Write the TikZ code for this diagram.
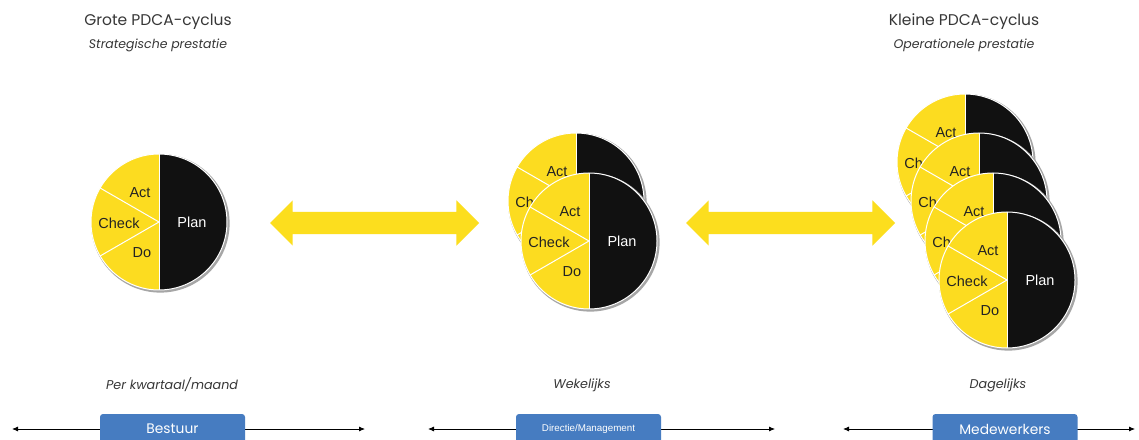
\documentclass[tikz,border=0pt]{standalone}
\usepackage{fontspec}
\setmainfont{Poppins}
\newfontfamily\pielabelfont{Liberation Sans}
\usetikzlibrary{positioning,shapes.arrows,arrows.meta,calc}

% the disc of one PDCA pie: name, x, y
\newcommand{\pdcadisc}[3]{%
  \coordinate (#1) at (#2,#3);
  \fill[pieshadow] ($(#1)+(1.3,-1.3)$) circle (69.3);
  \fill[fill=pdcaYellow] (#1) -- ++(0,68) arc[start angle=90,end angle=270,radius=68] -- cycle;
  \fill[fill=pdcaBlack] (#1) -- ++(0,-68) arc[start angle=-90,end angle=90,radius=68] -- cycle;
  \draw[pieline] (#1) -- ++(150:68);
  \draw[pieline] (#1) -- ++(210:68);
  \draw[pieline,line width=0.4pt] ($(#1)+(0,68)$) -- ($(#1)+(0,-68)$);
  \draw[pieline] (#1) circle (68);
  \node[pietext] (#1-act) at ($(#1)+(-19,29)$) {Act};
  \node[pietext] (#1-check) at ($(#1)+(-40,-1)$) {Check};
}
% a front pie, all four labels
\newcommand{\pdcapie}[3]{%
  \pdcadisc{#1}{#2}{#3}
  \node[pietext] (#1-do) at ($(#1)+(-17,-31)$) {Do};
  \node[pietext,text=white] (#1-plan) at ($(#1)+(33,0)$) {Plan};
}

\begin{document}
\begin{tikzpicture}[x=1pt,y=1pt,
  pieshadow/.style={fill=black!35},
  pieline/.style={draw=white,line width=1pt},
  pietext/.style={font=\pielabelfont\fontsize{14.5}{17}\selectfont,text=pdcaInk,inner sep=0pt,outer sep=0pt},
  titletext/.style={font=\fontsize{15.5}{18}\selectfont,text=titleGray,inner sep=0pt,outer sep=0pt},
  subtext/.style={font=\itshape\fontsize{12.5}{14}\selectfont,text=titleGray,inner sep=0pt,outer sep=0pt},
  freqtext/.style={font=\itshape\fontsize{12.7}{15}\selectfont,text=titleGray,inner sep=0pt,outer sep=0pt},
  yellowarrow/.style={double arrow,fill=arrowYellow,double arrow head extend=11.5pt,
    inner xsep=0pt,inner ysep=11pt,minimum height=209pt,minimum width=0pt,outer sep=0pt},
  rolebox/.style={fill=roleBlue,text=white,rounded corners=3pt,minimum width=145pt,
    minimum height=30pt,inner sep=0pt,outer sep=0pt,font=\fontsize{13.8}{16}\selectfont},
  timeline/.style={draw=black,line width=0.8pt,-{Latex[length=6pt,width=5pt]}}]
\definecolor{pdcaYellow}{RGB}{252,220,32}
\definecolor{arrowYellow}{RGB}{252,222,30}
\definecolor{pdcaBlack}{RGB}{17,17,17}
\definecolor{pdcaInk}{RGB}{35,35,35}
\definecolor{titleGray}{RGB}{55,55,55}
\definecolor{roleBlue}{RGB}{70,124,193}
\path[use as bounding box,fill=white] (0,0) rectangle (1139,439);

% titles
\node[titletext] (groteTitle) at (158,417) {Grote PDCA-cyclus};
\node[subtext] (groteSub) at (158,394) {Strategische prestatie};
\node[titletext] (kleineTitle) at (964,417) {Kleine PDCA-cyclus};
\node[subtext] (kleineSub) at (964,394) {Operationele prestatie};

% pies
\pdcapie{pieL}{159}{217}

\pdcadisc{pieM1}{576}{238}
\pdcapie{pieM2}{589}{198}

\foreach \cx/\cy [count=\i] in {965/277, 979/238, 993/198}
  {\pdcadisc{pieR\i}{\cx}{\cy}}
\pdcapie{pieR4}{1007}{159}

% yellow arrows
\node[yellowarrow] (arrowLM) at (374.5,216) {};
\node[yellowarrow] (arrowMR) at (790.5,216) {};

% frequency
\node[freqtext] (freqL) at (172,54) {Per kwartaal/maand};
\node[freqtext] (freqM) at (582,54) {Wekelijks};
\node[freqtext] (freqR) at (998,54) {Dagelijks};

% roles
\coordinate (bestuurL) at (12,10);
\coordinate (bestuurR) at (365,10);
\coordinate (directieL) at (428,10);
\coordinate (directieR) at (775,10);
\coordinate (medewL) at (843,10);
\coordinate (medewR) at (1135,10);

\draw[timeline] (172,10) -- (bestuurL);
\draw[timeline] (172,10) -- (bestuurR);
\draw[timeline] (588,10) -- (directieL);
\draw[timeline] (588,10) -- (directieR);
\draw[timeline] (1005,10) -- (medewL);
\draw[timeline] (1005,10) -- (medewR);

\node[rolebox] (bestuur) at (172.5,10) {Bestuur};
\node[rolebox,font=\pielabelfont\fontsize{9.8}{12}\selectfont] (directie) at (588.5,10) {Directie/Management};
\node[rolebox] (medew) at (1005,10) {Medewerkers};
\end{tikzpicture}
\end{document}
